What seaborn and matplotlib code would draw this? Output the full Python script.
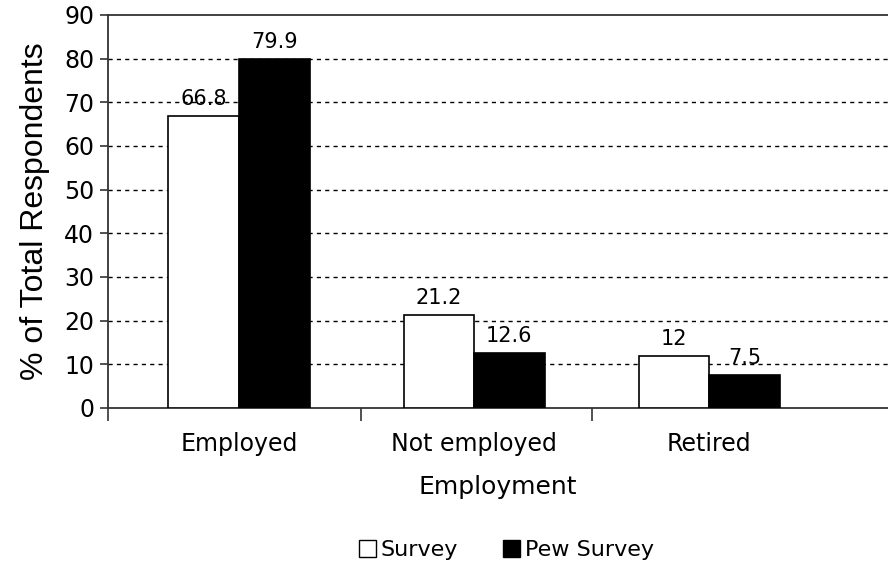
import matplotlib
matplotlib.use("Agg")
import matplotlib.pyplot as plt
import matplotlib.patches as mpatches
import pandas as pd
import seaborn as sns

sns.set_theme(style="white")
plt.rcParams["font.family"] = ["DejaVu Sans"]
plt.rcParams["text.color"] = "black"
plt.rcParams["xtick.color"] = "black"
plt.rcParams["ytick.color"] = "black"
plt.rcParams["axes.labelcolor"] = "black"

categories = ["Employed", "Not employed", "Retired"]
series = ["Survey", "Pew Survey"]
survey = [66.8, 21.2, 12]
pew = [79.9, 12.6, 7.5]
labels_survey = ["66.8", "21.2", "12"]
labels_pew = ["79.9", "12.6", "7.5"]

df = pd.DataFrame({
    "Employment": categories * 2,
    "value": survey + pew,
    "series": [series[0]] * 3 + [series[1]] * 3,
})

fig = plt.figure(figsize=(8.88, 5.65), dpi=100)
ax = fig.add_axes([0.1216, 0.2779, 0.8784, 0.6956])

pal = {"Survey": "white", "Pew Survey": "black"}
sns.barplot(data=df, x="Employment", y="value", hue="series", palette=pal,
            width=0.6, edgecolor="black", linewidth=1.2, ax=ax,
            legend=False, zorder=3, saturation=1)

for cont, labs in zip(ax.containers, [labels_survey, labels_pew]):
    ax.bar_label(cont, labels=labs, padding=5, fontsize=15)

ax.set_ylim(0, 90)
ax.set_yticks(range(0, 91, 10))
ax.set_xlim(-0.557, 2.76)
ax.set_xticks([0, 1, 2])
ax.set_xticklabels(categories, fontsize=17)
ax.set_xticks([-0.557, 0.52, 1.5], minor=True)
ax.tick_params(axis="x", which="major", length=0, pad=17)
ax.tick_params(axis="x", which="minor", length=9, width=1.2, color="#333333",
               direction="out", bottom=True)
ax.tick_params(axis="y", length=6, width=1.2, color="#333333", direction="out",
               left=True, labelsize=17, pad=4)

for v in range(10, 90, 10):
    ax.axhline(v, color="black", linestyle=(0, (3, 3)), linewidth=1, zorder=1)

for s in ["left", "bottom", "top"]:
    ax.spines[s].set_color("#333333")
    ax.spines[s].set_linewidth(1.3)
ax.spines["right"].set_visible(False)

ax.set_xlabel("Employment", fontsize=18, labelpad=14)
ax.set_ylabel("% of Total Respondents", fontsize=23, labelpad=10,
              family=["Liberation Sans", "DejaVu Sans"])

handles = [mpatches.Patch(facecolor="white", edgecolor="black", label="Survey"),
           mpatches.Patch(facecolor="black", edgecolor="black", label="Pew Survey")]
fig.legend(handles=handles, loc="center", bbox_to_anchor=(0.57, 0.027), ncol=2,
           frameon=False, fontsize=16, handlelength=0.8, handleheight=0.8,
           handletextpad=0.2, columnspacing=2.0)

fig.savefig("out.png", dpi=100)
